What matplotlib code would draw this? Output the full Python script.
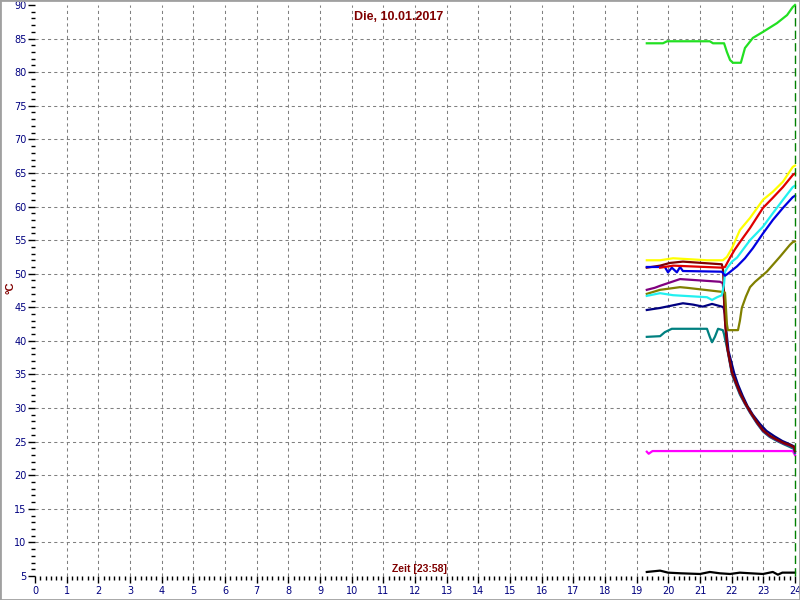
import matplotlib
matplotlib.use("Agg")
import matplotlib.pyplot as plt
from matplotlib.patches import Rectangle
from matplotlib.ticker import MultipleLocator

title = "Die, 10.01.2017"
xlabel_text = "Zeit [23:58]"
ylabel_text = "°C"

# hours / degrees
green_t = [19.32, 19.83, 19.96, 21.31, 21.41, 21.76, 21.85, 21.95, 22.04, 22.29, 22.42, 22.67, 22.99, 23.43, 23.75, 23.93, 24.0]
green_v = [84.3, 84.3, 84.6, 84.6, 84.3, 84.3, 83.0, 81.8, 81.4, 81.4, 83.6, 85.1, 86.0, 87.3, 88.5, 89.7, 90.0]

yellow_t = [19.32, 19.74, 20.15, 21.22, 21.72, 21.85, 22.01, 22.26, 22.58, 22.99, 23.3, 23.62, 23.93, 24.0]
yellow_v = [52.0, 52.0, 52.3, 52.0, 52.0, 52.5, 53.8, 56.5, 58.3, 61.0, 62.2, 63.7, 65.9, 66.1]

red_t = [19.74, 20.15, 21.69, 21.79, 21.95, 22.1, 22.26, 22.58, 22.99, 23.3, 23.62, 23.93, 24.0]
red_v = [50.9, 51.2, 50.9, 51.0, 52.4, 53.6, 54.7, 56.8, 59.8, 61.3, 62.9, 64.7, 64.9]

blue_t = [19.32, 19.89, 19.99, 20.11, 20.27, 20.37, 20.46, 21.69, 21.79, 21.88, 22.17, 22.42, 22.67, 22.99, 23.3, 23.62, 23.93, 24.0]
blue_v = [51.0, 51.0, 50.2, 50.9, 50.2, 51.0, 50.4, 50.3, 49.7, 50.0, 51.1, 52.3, 53.8, 56.0, 58.0, 59.8, 61.4, 61.6]

maroon_t = [19.32, 19.74, 20.05, 20.46, 21.69, 21.73, 21.76, 21.79, 21.86, 22.01, 22.15, 22.26, 22.42, 22.58, 22.8, 22.99, 23.2, 23.43, 23.65, 23.84, 23.97, 24.0]
maroon_v = [50.9, 51.2, 51.6, 51.8, 51.4, 50.5, 46.5, 43.0, 39.0, 35.3, 33.6, 32.3, 30.8, 29.5, 27.9, 26.7, 25.9, 25.3, 24.8, 24.5, 24.2, 23.6]

purple_t = [19.32, 19.57, 19.74, 20.37, 21.63, 21.72, 21.76, 21.79, 21.86, 22.01, 22.15, 22.26, 22.42, 22.58, 22.8, 22.99, 23.2, 23.43, 23.65, 23.84, 23.97, 24.0]
purple_v = [47.6, 47.9, 48.2, 49.2, 48.8, 48.6, 46.0, 43.0, 39.0, 35.2, 33.5, 32.2, 30.7, 29.4, 27.8, 26.6, 25.8, 25.2, 24.7, 24.4, 24.1, 23.5]

olive_t = [19.32, 19.74, 20.37, 20.59, 21.69, 21.79, 21.85, 21.88, 22.2, 22.26, 22.32, 22.45, 22.58, 22.74, 23.11, 23.52, 23.84, 23.93, 24.0]
olive_v = [47.0, 47.6, 48.0, 47.9, 47.3, 47.2, 42.5, 41.6, 41.6, 43.0, 44.9, 46.6, 48.0, 48.8, 50.3, 52.5, 54.3, 54.7, 54.8]

cyan_t = [19.32, 19.74, 20.15, 21.22, 21.38, 21.54, 21.69, 21.76, 21.79, 21.88, 22.01, 22.17, 22.58, 22.99, 23.3, 23.62, 23.93, 24.0]
cyan_v = [46.7, 47.1, 46.8, 46.5, 46.1, 46.5, 46.8, 48.5, 50.3, 51.0, 51.8, 52.4, 55.0, 57.0, 59.0, 61.0, 62.9, 63.1]

navy_t = [19.32, 19.74, 20.05, 20.46, 20.78, 21.09, 21.38, 21.69, 21.74, 21.79, 21.82, 21.9, 22.08, 22.2, 22.35, 22.5, 22.67, 22.9, 23.1, 23.35, 23.6, 23.84, 23.97, 24.0]
navy_v = [44.6, 44.9, 45.2, 45.6, 45.4, 45.1, 45.5, 45.1, 45.0, 44.0, 42.0, 38.5, 35.2, 33.5, 31.8, 30.3, 29.0, 27.6, 26.6, 25.8, 25.1, 24.6, 24.3, 23.6]

teal_t = [19.32, 19.74, 19.89, 20.11, 21.22, 21.31, 21.38, 21.47, 21.57, 21.72, 21.76, 21.79, 21.86, 22.01, 22.15, 22.26, 22.42, 22.58, 22.8, 22.99, 23.2, 23.43, 23.65, 23.84, 23.97, 24.0]
teal_v = [40.6, 40.7, 41.3, 41.8, 41.8, 40.6, 39.8, 40.6, 41.8, 41.6, 41.0, 40.3, 38.8, 35.0, 33.3, 32.0, 30.6, 29.3, 27.7, 26.5, 25.7, 25.1, 24.6, 24.2, 23.9, 23.3]

magenta_t = [19.32, 19.38, 19.5, 23.93, 24.0]
magenta_v = [23.5, 23.2, 23.6, 23.6, 23.0]

black_t = [19.32, 19.74, 19.99, 20.4, 21.0, 21.31, 21.63, 21.95, 22.26, 22.6, 22.99, 23.3, 23.46, 23.6, 23.93, 24.0]
black_v = [5.6, 5.8, 5.5, 5.4, 5.3, 5.6, 5.4, 5.3, 5.5, 5.4, 5.3, 5.6, 5.2, 5.5, 5.5, 5.5]

series = [
    (green_t, green_v, "#22e022"),
    (magenta_t, magenta_v, "#ff00ff"),
    (black_t, black_v, "#000000"),
    (teal_t, teal_v, "#008080"),
    (navy_t, navy_v, "#000080"),
    (purple_t, purple_v, "#800080"),
    (maroon_t, maroon_v, "#800000"),
    (olive_t, olive_v, "#808000"),
    (cyan_t, cyan_v, "#22f0f0"),
    (blue_t, blue_v, "#0000e0"),
    (red_t, red_v, "#e00000"),
    (yellow_t, yellow_v, "#ffff00"),
]

fig = plt.figure(figsize=(8, 6), dpi=100)
ax = fig.add_axes([35 / 800, 24 / 600, 760 / 800, 571 / 600])

# dashed grid, not on the outer edges
for h in range(1, 24):
    ax.axvline(h, color="#808080", linestyle=(0, (3, 3)), linewidth=0.75, zorder=1)
for d in range(10, 90, 5):
    ax.axhline(d, color="#808080", linestyle=(0, (3, 3)), linewidth=0.75, zorder=1)

for t, v, c in series:
    ax.plot(t, v, color=c, linewidth=1.6, clip_on=False, zorder=3)

ax.axvline(24, color="#008000", linestyle=(0, (6, 3)), linewidth=1.0, zorder=5, clip_on=False)

ax.set_xlim(0, 24)
ax.set_ylim(5, 90)
ax.xaxis.set_major_locator(MultipleLocator(1))
ax.xaxis.set_minor_locator(MultipleLocator(1 / 6))
ax.yaxis.set_major_locator(MultipleLocator(5))
ax.yaxis.set_minor_locator(MultipleLocator(1))

for s in ax.spines.values():
    s.set_visible(False)

ax.tick_params(axis="both", which="major", direction="out", length=5, width=1,
               color="black", labelcolor="#000080", labelsize=7)
ax.tick_params(axis="both", which="minor", direction="out", length=3, width=1, color="black")
ax.tick_params(axis="x", which="major", pad=2)
ax.tick_params(axis="y", which="major", pad=1)

fig.text(399 / 800, 1 - 17 / 600, title, ha="center", va="center", color="#800000",
         fontweight="bold", fontsize=9, family="Liberation Sans")
fig.text(419 / 800, 1 - 569 / 600, xlabel_text, ha="center", va="center",
         color="#800000", fontweight="bold", fontsize=7.5, family="Liberation Sans")
fig.text(10 / 800, 1 - 288 / 600, ylabel_text, rotation=90, ha="center", va="center",
         color="#800000", fontweight="bold", fontsize=8, family="Liberation Sans")

fig.patches.append(Rectangle((0, 0), 1, 1, transform=fig.transFigure, fill=False,
                             edgecolor="#a0a0a0", linewidth=2))

fig.savefig("out.png", dpi=100)
